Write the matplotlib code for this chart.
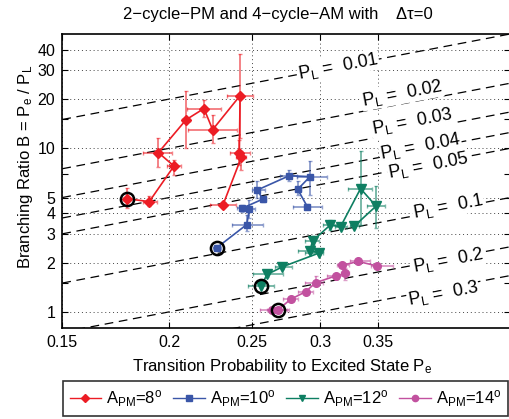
import matplotlib
matplotlib.use("Agg")
import matplotlib.pyplot as plt
from matplotlib.ticker import FixedLocator, NullFormatter, NullLocator, FixedFormatter
from matplotlib.lines import Line2D
import numpy as np

plt.rcParams['font.family'] = ['Liberation Sans', 'DejaVu Sans']
plt.rcParams['mathtext.fontset'] = 'custom'
plt.rcParams['mathtext.rm'] = 'Liberation Sans'
plt.rcParams['mathtext.it'] = 'Liberation Sans'
plt.rcParams['mathtext.default'] = 'regular'

# ---------------- data ----------------
pl_values = [0.01, 0.02, 0.03, 0.04, 0.05, 0.1, 0.2, 0.3]
pl_label_x = [0.3147, 0.3738, 0.3840, 0.3924, 0.4009, 0.4230, 0.4230, 0.4174]
pl_label_y = [31.8, 21.7, 14.6, 10.3, 7.87, 4.41, 2.06, 1.294]
pl_label_text = ['0.01', '0.02', '0.03', '0.04', '0.05', '0.1', '0.2', '0.3']

# A_PM = 8 deg
pe_8 = [0.1784, 0.1895, 0.2025, 0.1942, 0.2092, 0.2195, 0.2247, 0.2419, 0.2414, 0.2427, 0.2310]
b_8 = [4.92, 4.72, 7.79, 9.41, 14.95, 17.5, 13.0, 21.0, 9.32, 8.81, 4.50]
pe_lo_8 = [0.1765, 0.1863, 0.1987, 0.1863, 0.2069, 0.2097, 0.2103, 0.2336, 0.2354, 0.2390, 0.2231]
pe_hi_8 = [0.1800, 0.1935, 0.2064, 0.2014, 0.2114, 0.2298, 0.2399, 0.2504, 0.2484, 0.2460, 0.2393]
b_lo_8 = [4.29, 4.41, 6.83, 7.65, 10.0, 15.5, 10.73, 11.5, 7.87, 7.35, 4.30]
b_hi_8 = [5.69, 5.08, 8.44, 11.51, 22.3, 19.7, 15.9, 37.6, 11.2, 9.59, 4.70]

# A_PM = 10 deg
pe_10 = [0.2272, 0.2463, 0.2480, 0.2430, 0.2571, 0.2534, 0.2761, 0.2919, 0.2824, 0.2898]
b_10 = [2.466, 3.42, 4.25, 4.29, 4.89, 5.56, 6.80, 6.71, 5.61, 4.40]
pe_lo_10 = [0.2250, 0.2367, 0.2440, 0.2400, 0.2550, 0.2496, 0.2693, 0.2819, 0.2800, 0.2789]
pe_hi_10 = [0.2295, 0.2573, 0.2518, 0.2460, 0.2590, 0.2587, 0.2819, 0.3056, 0.2850, 0.3015]
b_lo_10 = [2.38, 3.10, 3.73, 4.10, 4.70, 4.94, 6.28, 5.16, 5.16, 4.25]
b_hi_10 = [2.55, 3.89, 4.80, 4.50, 5.10, 6.28, 7.33, 8.32, 6.28, 4.55]

# A_PM = 12 deg
pe_12 = [0.2559, 0.2601, 0.2711, 0.2992, 0.2919, 0.2939, 0.3081, 0.3169, 0.3344, 0.3486, 0.3289]
b_12 = [1.439, 1.692, 1.886, 2.291, 2.366, 2.714, 3.39, 3.32, 5.67, 4.43, 3.35]
pe_lo_12 = [0.2471, 0.2504, 0.2657, 0.2880, 0.2827, 0.2880, 0.3023, 0.3122, 0.3233, 0.3403, 0.3250]
pe_hi_12 = [0.2650, 0.2715, 0.2781, 0.3023, 0.3023, 0.2990, 0.3139, 0.3225, 0.3449, 0.3571, 0.3330]
b_lo_12 = [1.40, 1.64, 1.83, 2.22, 2.30, 2.55, 3.15, 3.22, 3.38, 3.24, 3.25]
b_hi_12 = [1.48, 1.74, 1.94, 2.36, 2.43, 2.89, 3.62, 3.42, 9.59, 5.85, 3.45]

# A_PM = 14 deg
pe_14 = [0.2634, 0.2681, 0.2772, 0.2884, 0.2963, 0.3131, 0.3207, 0.3183, 0.3324, 0.3498]
b_14 = [1.029, 1.033, 1.195, 1.326, 1.507, 1.661, 1.716, 1.929, 2.032, 1.907]
pe_lo_14 = [0.2552, 0.2600, 0.2715, 0.2827, 0.2880, 0.3056, 0.3170, 0.3139, 0.3254, 0.3439]
pe_hi_14 = [0.2745, 0.2760, 0.2827, 0.2940, 0.3023, 0.3207, 0.3245, 0.3241, 0.3434, 0.3649]
b_lo_14 = [1.00, 1.00, 1.16, 1.29, 1.429, 1.62, 1.555, 1.88, 1.98, 1.86]
b_hi_14 = [1.06, 1.06, 1.23, 1.36, 1.645, 1.70, 1.842, 1.98, 2.08, 1.95]

start_index = [0, 0, 0, 1]
series_labels = ['$A_{PM}$=8$^o$', '$A_{PM}$=10$^o$', '$A_{PM}$=12$^o$', '$A_{PM}$=14$^o$']

x_ticks = [0.15, 0.2, 0.25, 0.3, 0.35]
x_tick_labels = ['0.15', '0.2', '0.25', '0.3', '0.35']
y_ticks = [1, 2, 3, 4, 5, 10, 20, 30, 40]
y_tick_labels = ['1', '2', '3', '4', '5', '10', '20', '30', '40']
y_minor = [1.5, 7, 15]

# ---------------- figure ----------------
fig = plt.figure(figsize=(5.09, 4.19), dpi=100)
ax = fig.add_axes([0.1224, 0.2179, 0.8800, 0.7010])
ax.set_xscale('log')
ax.set_yscale('log')
ax.set_xlim(0.15, 0.5)
ax.set_ylim(0.8, 50)

# constant-P_L lines
xx = np.array([0.15, 0.5])
for pl in pl_values:
    ax.plot(xx, xx / pl, color='black', lw=0.9, dashes=(7, 4.5), zorder=1)

rot = np.degrees(np.arctan(163.3 / (372 * np.log(10))))
for tx, ty, t in zip(pl_label_x, pl_label_y, pl_label_text):
    ax.text(tx, ty, '$P_L$ =  ' + t, fontsize=13, rotation=rot,
            rotation_mode='anchor', ha='center', va='center', zorder=2,
            bbox=dict(facecolor='white', edgecolor='none', pad=0.5))

colors = ['#ec1c24', '#3a56a8', '#0e7f62', '#c2519f']
markers = ['D', 's', 'v', 'o']
msizes = [5.5, 5, 7, 5.5]
series = [
    (pe_8, b_8, pe_lo_8, pe_hi_8, b_lo_8, b_hi_8),
    (pe_10, b_10, pe_lo_10, pe_hi_10, b_lo_10, b_hi_10),
    (pe_12, b_12, pe_lo_12, pe_hi_12, b_lo_12, b_hi_12),
    (pe_14, b_14, pe_lo_14, pe_hi_14, b_lo_14, b_hi_14),
]
for (x, y, xl, xh, yl, yh), c, m, ms, si in zip(series, colors, markers, msizes, start_index):
    x = np.array(x); y = np.array(y)
    xerr = [x - np.array(xl), np.array(xh) - x]
    yerr = [y - np.array(yl), np.array(yh) - y]
    ax.errorbar(x, y, xerr=xerr, yerr=yerr, fmt='none', ecolor=c, alpha=0.55,
                elinewidth=1.4, capsize=1.5, capthick=1.0, zorder=3)
    ax.plot(x, y, color=c, lw=1.2, marker=m, ms=ms, mec=c, mfc=c, zorder=4)
    ax.plot([x[si]], [y[si]], 'o', ms=9.5, mfc='none', mec='black', mew=1.8, zorder=5)

ax.xaxis.set_major_locator(FixedLocator(x_ticks))
ax.xaxis.set_major_formatter(FixedFormatter(x_tick_labels))
ax.xaxis.set_minor_locator(NullLocator())
ax.yaxis.set_major_locator(FixedLocator(y_ticks))
ax.yaxis.set_major_formatter(FixedFormatter(y_tick_labels))
ax.yaxis.set_minor_locator(FixedLocator(y_minor))
ax.yaxis.set_minor_formatter(NullFormatter())

ax.grid(True, which='major', linestyle=(0, (1, 3)), color='#444444', lw=0.7)
ax.tick_params(which='both', direction='in', top=True, right=True, length=4,
               width=0.8, labelsize=11.5, pad=5)
for s in ax.spines.values():
    s.set_linewidth(1.2)

ax.set_xlabel('Transition Probability to Excited State $P_e$', fontsize=12, va='center')
ax.xaxis.set_label_coords(0.49, -0.133)
ax.set_ylabel('Branching Ratio B = $P_e$ / $P_L$', fontsize=12, va='center')
ax.yaxis.set_label_coords(-0.082, 0.547)
ax.set_title('2\u2212cycle\u2212PM and 4\u2212cycle\u2212AM with    \u0394\u03c4=0',
             fontsize=12, x=0.482, y=1.065, va='center', pad=0)

handles = [Line2D([], [], color=c, lw=1.0, marker=m, ms=4.5, mfc=c, mec=c)
           for c, m in zip(colors, markers)]
leg = fig.legend(handles, series_labels, loc='center', ncol=4, mode='expand',
                 bbox_to_anchor=(63 / 509, 1 / 419, 445 / 509, 39 / 419),
                 bbox_transform=fig.transFigure, fontsize=12, frameon=True,
                 fancybox=False, handlelength=1.9, handletextpad=0.3,
                 columnspacing=0.6, borderaxespad=0)
leg.get_frame().set_edgecolor('black')
leg.get_frame().set_linewidth(1.2)

fig.savefig('out.png', dpi=100)
